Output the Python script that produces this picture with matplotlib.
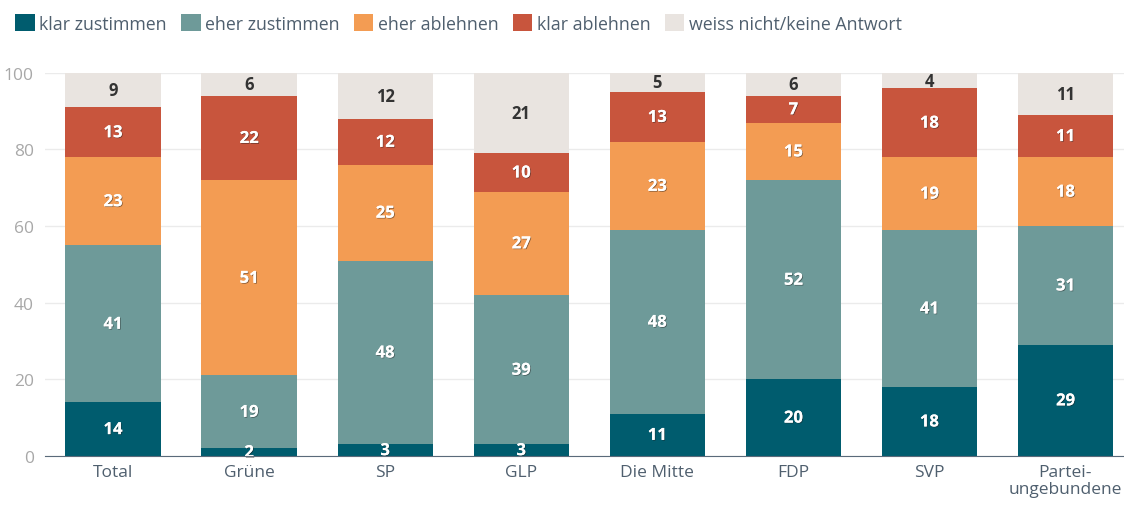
import matplotlib
matplotlib.use("Agg")
import matplotlib.pyplot as plt
import matplotlib.patheffects as pe
from matplotlib.patches import Patch
import numpy as np

plt.rcParams["font.family"] = ["Open Sans", "DejaVu Sans"]

# -----------------------------------------------------------------------------
# Data
# -----------------------------------------------------------------------------

categories = ["Total", "Grüne", "SP", "GLP", "Die Mitte", "FDP", "SVP", "Partei-\nungebundene"]
series_names = ["klar zustimmen", "eher zustimmen", "eher ablehnen", "klar ablehnen",
                "weiss nicht/keine Antwort"]
klar_zustimmen = [14, 2, 3, 3, 11, 20, 18, 29]
eher_zustimmen = [41, 19, 48, 39, 48, 52, 41, 31]
eher_ablehnen = [23, 51, 25, 27, 23, 15, 19, 18]
klar_ablehnen = [13, 22, 12, 10, 13, 7, 18, 11]
weiss_nicht = [9, 6, 12, 21, 5, 6, 4, 11]
y_ticks = [0, 20, 40, 60, 80, 100]

colors = ["#005c6e", "#6e9a99", "#f39c53", "#c8553d", "#e9e4e0"]
label_colors = ["white", "white", "white", "white", "#333333"]

# -----------------------------------------------------------------------------
# Plot
# -----------------------------------------------------------------------------

fig = plt.figure(figsize=(11.24, 5.06), dpi=100)
ax = fig.add_axes([0.04, 0.097, 0.96, 0.757])

x = np.arange(len(categories))
series = [klar_zustimmen, eher_zustimmen, eher_ablehnen, klar_ablehnen, weiss_nicht]
bottom = np.zeros(len(categories))
shadow = [pe.withSimplePatchShadow(offset=(0.6, -0.6), shadow_rgbFace="#222222", alpha=0.5),
          pe.Normal()]
for values, color, tcolor in zip(series, colors, label_colors):
    values = np.asarray(values, dtype=float)
    ax.bar(x, values, bottom=bottom, width=0.70, color=color, zorder=2)
    for xi, b, v in zip(x, bottom, values):
        txt = ax.text(xi, b + v / 2, f"{v:.0f}", ha="center", va="center",
                      fontsize=12, fontweight="bold", color=tcolor, zorder=3)
        if tcolor == "white":
            txt.set_path_effects(shadow)
    bottom += values

ax.set_xlim(-0.5, 7.43)
ax.set_ylim(0, 100)
ax.set_yticks(y_ticks)
ax.set_xticks(x)
ax.set_xticklabels(categories, fontsize=12.5, color="#4f5f6e", linespacing=1.1)
ax.tick_params(axis="y", labelsize=12.5, labelcolor="#a8a8a8", length=0, pad=8)
ax.tick_params(axis="x", length=0, pad=6)
ax.grid(axis="y", color="#ebebeb", linewidth=1, zorder=0)
for side in ["top", "right", "left"]:
    ax.spines[side].set_visible(False)
ax.spines["bottom"].set_color("#5a6a7a")
ax.spines["bottom"].set_zorder(4)

handles = [Patch(facecolor=c, edgecolor="none") for c in colors]
fig.legend(handles, series_names, loc="upper left", bbox_to_anchor=(0.0, 1.0),
           ncol=5, frameon=False, fontsize=12.8, handlelength=1.1, handleheight=1.1,
           handletextpad=0.25, columnspacing=0.8, labelcolor="#4f5f6e",
           borderaxespad=0.45)

fig.savefig("out.png", dpi=100)
